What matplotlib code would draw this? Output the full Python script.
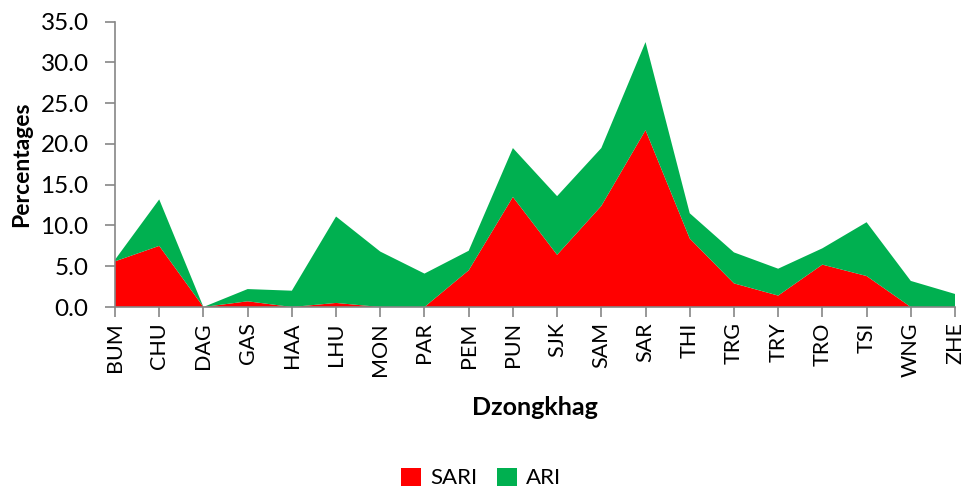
import matplotlib
matplotlib.use("Agg")
import matplotlib.pyplot as plt
import numpy as np

categories = ["BUM", "CHU", "DAG", "GAS", "HAA", "LHU", "MON", "PAR", "PEM", "PUN",
              "SJK", "SAM", "SAR", "THI", "TRG", "TRY", "TRO", "TSI", "WNG", "ZHE"]
sari = [5.6, 7.5, 0.0, 0.7, 0.0, 0.5, 0.0, 0.0, 4.5, 13.5,
        6.4, 12.4, 21.7, 8.4, 2.9, 1.4, 5.2, 3.8, 0.0, 0.0]
ari = [0.2, 5.7, 0.0, 1.5, 2.0, 10.6, 6.8, 4.1, 2.4, 6.0,
       7.2, 7.1, 10.8, 3.1, 3.8, 3.3, 2.0, 6.6, 3.2, 1.6]

plt.rcParams['font.family'] = ['Lato', 'DejaVu Sans']

fig = plt.figure(figsize=(9.62, 4.91), dpi=100)
ax = fig.add_axes([115/962, 1-307/491, 840/962, (307-21.7)/491])

x = np.arange(len(categories))
ax.stackplot(x, sari, ari, colors=["#ff0000", "#00b050"], labels=["SARI", "ARI"], linewidth=0)

ax.set_xlim(0, len(categories)-1)
ax.set_ylim(0, 35)
ax.set_yticks(np.arange(0, 35.1, 5))
ax.set_yticklabels([f"{v:.1f}" for v in np.arange(0, 35.1, 5)], fontsize=17.5)
ax.set_xticks(x)
ax.set_xticklabels(categories, rotation=90, fontsize=15.5)

for s in ["top", "right"]:
    ax.spines[s].set_visible(False)
for s in ["left", "bottom"]:
    ax.spines[s].set_color("#868686")
    ax.spines[s].set_linewidth(1.2)
ax.tick_params(axis="both", color="#868686", length=7, width=1.2)
ax.tick_params(axis="x", pad=4)
ax.tick_params(axis="y", pad=12)

ax.set_ylabel("Percentages", fontsize=16.5, fontweight="bold", labelpad=6)
ax.set_xlabel("Dzongkhag", fontsize=18, fontweight="bold", labelpad=14)

fig.legend(loc="center", bbox_to_anchor=(0.5, 1-478/491), ncol=2, frameon=False,
           fontsize=16, handlelength=0.9, handleheight=0.9, handletextpad=0.4,
           columnspacing=0.9, borderpad=0)

fig.savefig("out.png", dpi=100)
